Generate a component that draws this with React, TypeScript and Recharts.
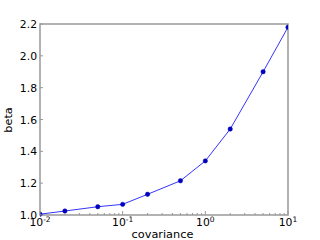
import { Line, LineChart, ReferenceArea, XAxis, YAxis } from "recharts";

// covariance sweep (log x) vs fitted beta
const covariance = [0.01, 0.02, 0.05, 0.1, 0.2, 0.5, 1, 2, 5, 10];
const beta = [1.005, 1.025, 1.052, 1.067, 1.13, 1.215, 1.34, 1.54, 1.9, 2.18];

const majorX = [0.01, 0.1, 1, 10];
const minorX = [
  0.02, 0.03, 0.04, 0.05, 0.06, 0.07, 0.08, 0.09,
  0.2, 0.3, 0.4, 0.5, 0.6, 0.7, 0.8, 0.9,
  2, 3, 4, 5, 6, 7, 8, 9,
];
const yTicks = [1.0, 1.2, 1.4, 1.6, 1.8, 2.0, 2.2];

const data = covariance.map((c, i) => ({ cov: c, beta: beta[i] }));
const allX = [...majorX, ...minorX].sort((a, b) => a - b);

const FRAME = "#999999";
const FONT = "DejaVu Sans, sans-serif";

// inward tick marks, matplotlib-style; labels only on decades
function XTick(props: any) {
  const { x, y, payload, side } = props;
  const v = payload.value as number;
  const major = majorX.includes(v);
  const len = major ? 4 : 2;
  const dir = side === "top" ? 1 : -1;
  const exp = Math.round(Math.log10(v));
  return (
    <g>
      <line x1={x} y1={y} x2={x} y2={y + dir * len} stroke={FRAME} strokeWidth={1} />
      {side !== "top" && major && (
        <text x={x} y={y + 11} textAnchor="middle" fontFamily={FONT} fontSize={10.8} fill="#000">
          <tspan>10</tspan>
          <tspan dy={-4} fontSize={7.5}>{exp}</tspan>
        </text>
      )}
    </g>
  );
}

function YTick(props: any) {
  const { x, y, payload, side } = props;
  const dir = side === "right" ? -1 : 1;
  return (
    <g>
      <line x1={x} y1={y} x2={x + dir * 3} y2={y} stroke={FRAME} strokeWidth={1} />
      {side !== "right" && (
        <text x={x - 3} y={y + 4} textAnchor="end" fontFamily={FONT} fontSize={10.8} fill="#000">
          {(payload.value as number).toFixed(1)}
        </text>
      )}
    </g>
  );
}

export default function App() {
  return (
    <div style={{ position: "absolute", left: 0, top: 0, width: 320, height: 240, background: "#fff" }}>
      <LineChart width={320} height={240} data={data} margin={{ top: 24, right: 32, bottom: 0, left: 0 }}>
        <XAxis
          dataKey="cov"
          type="number"
          scale="log"
          domain={[0.01, 10]}
          ticks={allX}
          interval={0}
          tickSize={0}
          tickMargin={0}
          tickLine={false}
          axisLine={false}
          height={25}
          allowDataOverflow
          tick={<XTick side="bottom" />}
          label={{
            content: () => (
              <text x={162.5} y={238} textAnchor="middle" fontFamily={FONT} fontSize={11.3} fill="#000">
                covariance
              </text>
            ),
          }}
        />
        <XAxis
          xAxisId="top"
          orientation="top"
          type="number"
          scale="log"
          domain={[0.01, 10]}
          ticks={allX}
          interval={0}
          tickSize={0}
          tickMargin={0}
          tickLine={false}
          axisLine={false}
          height={0}
          allowDataOverflow
          tick={<XTick side="top" />}
        />
        <YAxis
          type="number"
          domain={[1, 2.2]}
          ticks={yTicks}
          interval={0}
          tickSize={0}
          tickMargin={0}
          tickLine={false}
          axisLine={false}
          width={40}
          tick={<YTick side="left" />}
          label={{
            content: () => (
              <text
                x={12}
                y={120}
                transform="rotate(-90 12 120)"
                textAnchor="middle"
                fontFamily={FONT}
                fontSize={11.3}
                fill="#000"
              >
                beta
              </text>
            ),
          }}
        />
        <YAxis
          yAxisId="right"
          orientation="right"
          type="number"
          domain={[1, 2.2]}
          ticks={yTicks}
          interval={0}
          tickSize={0}
          tickMargin={0}
          tickLine={false}
          axisLine={false}
          width={0}
          tick={<YTick side="right" />}
        />
        <ReferenceArea x1={0.01} x2={10} y1={1} y2={2.2} fill="none" stroke={FRAME} strokeWidth={1.5} ifOverflow="visible" />
        <Line
          dataKey="beta"
          stroke="#0000ff"
          strokeWidth={0.8}
          dot={{ r: 2.2, fill: "#0000bf", stroke: "#0000bf", strokeWidth: 0.5 }}
          isAnimationActive={false}
        />
      </LineChart>
    </div>
  );
}
